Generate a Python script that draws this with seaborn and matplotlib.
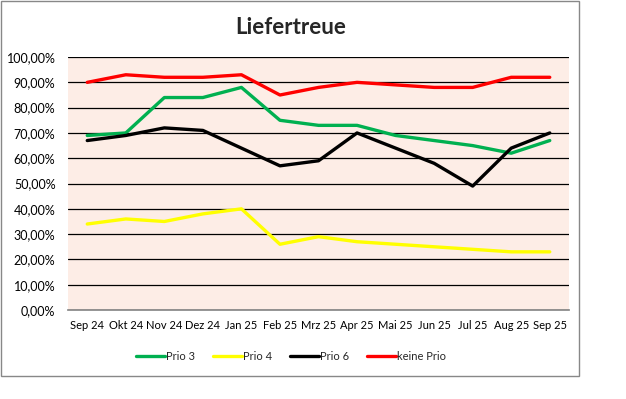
import pandas as pd
import matplotlib.pyplot as plt
import seaborn as sns
from matplotlib.patches import Rectangle
from matplotlib.ticker import FuncFormatter

months = ['Sep 24', 'Okt 24', 'Nov 24', 'Dez 24', 'Jan 25', 'Feb 25', 'Mrz 25',
          'Apr 25', 'Mai 25', 'Jun 25', 'Jul 25', 'Aug 25', 'Sep 25']
prio3 = [69, 70, 84, 84, 88, 75, 73, 73, 69, 67, 65, 62, 67]
prio4 = [34, 36, 35, 38, 40, 26, 29, 27, 26, 25, 24, 23, 23]
prio6 = [67, 69, 72, 71, 64, 57, 59, 70, 64, 58, 49, 64, 70]
keine = [90, 93, 92, 92, 93, 85, 88, 90, 89, 88, 88, 92, 92]
series = ['Prio 3', 'Prio 4', 'Prio 6', 'keine Prio']
colors = ['#00B050', '#FFFF00', '#000000', '#FF0000']

df = pd.DataFrame({'Monat': months, 'Prio 3': prio3, 'Prio 4': prio4,
                   'Prio 6': prio6, 'keine Prio': keine})
df['pos'] = range(len(months))
long = df.melt(id_vars=['Monat', 'pos'], value_vars=series,
               var_name='Serie', value_name='Wert')
long['Wert'] = long['Wert'] / 100

sns.set_theme(style='white')
plt.rcParams['font.family'] = ['Lato', 'DejaVu Sans']

fig = plt.figure(figsize=(6.26, 3.99), dpi=100)
ax = fig.add_axes([0.1086, 0.223, 0.8004, 0.634])

# outer chart border
fig.patches.append(Rectangle((0.0015, 0.058), 0.924, 0.94, transform=fig.transFigure,
                             fill=False, edgecolor='#888888', linewidth=1))

ax.set_facecolor('#FDEDE6')
sns.lineplot(data=long, x='pos', y='Wert', hue='Serie', hue_order=series,
             palette=colors, linewidth=2.4, sort=False, ax=ax, legend=True)

ax.set_xlim(-0.5, len(months) - 0.5)
ax.set_ylim(0, 1.0)
ax.set_yticks([i / 10 for i in range(11)])
ax.yaxis.set_major_formatter(FuncFormatter(lambda v, p: f'{v*100:.2f}%'.replace('.', ',')))
ax.set_xticks(range(len(months)))
ax.set_xticklabels(months)
ax.tick_params(axis='x', labelsize=8, length=0, pad=7, colors='black')
ax.tick_params(axis='y', labelsize=9, length=0, pad=9, colors='black')
ax.grid(axis='y', color='black', linewidth=0.9)
ax.set_axisbelow(True)
for s in ['left', 'right', 'top']:
    ax.spines[s].set_visible(False)
ax.spines['bottom'].set_color('#888888')
ax.set_xlabel('')
ax.set_ylabel('')

fig.text(291 / 626, 1 - 27 / 399, 'Liefertreue', fontsize=16, fontweight='bold',
         ha='center', va='center')

handles, labels = ax.get_legend_handles_labels()
ax.legend(handles, labels, loc='center', bbox_to_anchor=(0.445, -0.182), ncol=4,
          frameon=False, fontsize=8, handlelength=2.6, handletextpad=0.1,
          columnspacing=1.6)

fig.savefig('out.png', dpi=100)
